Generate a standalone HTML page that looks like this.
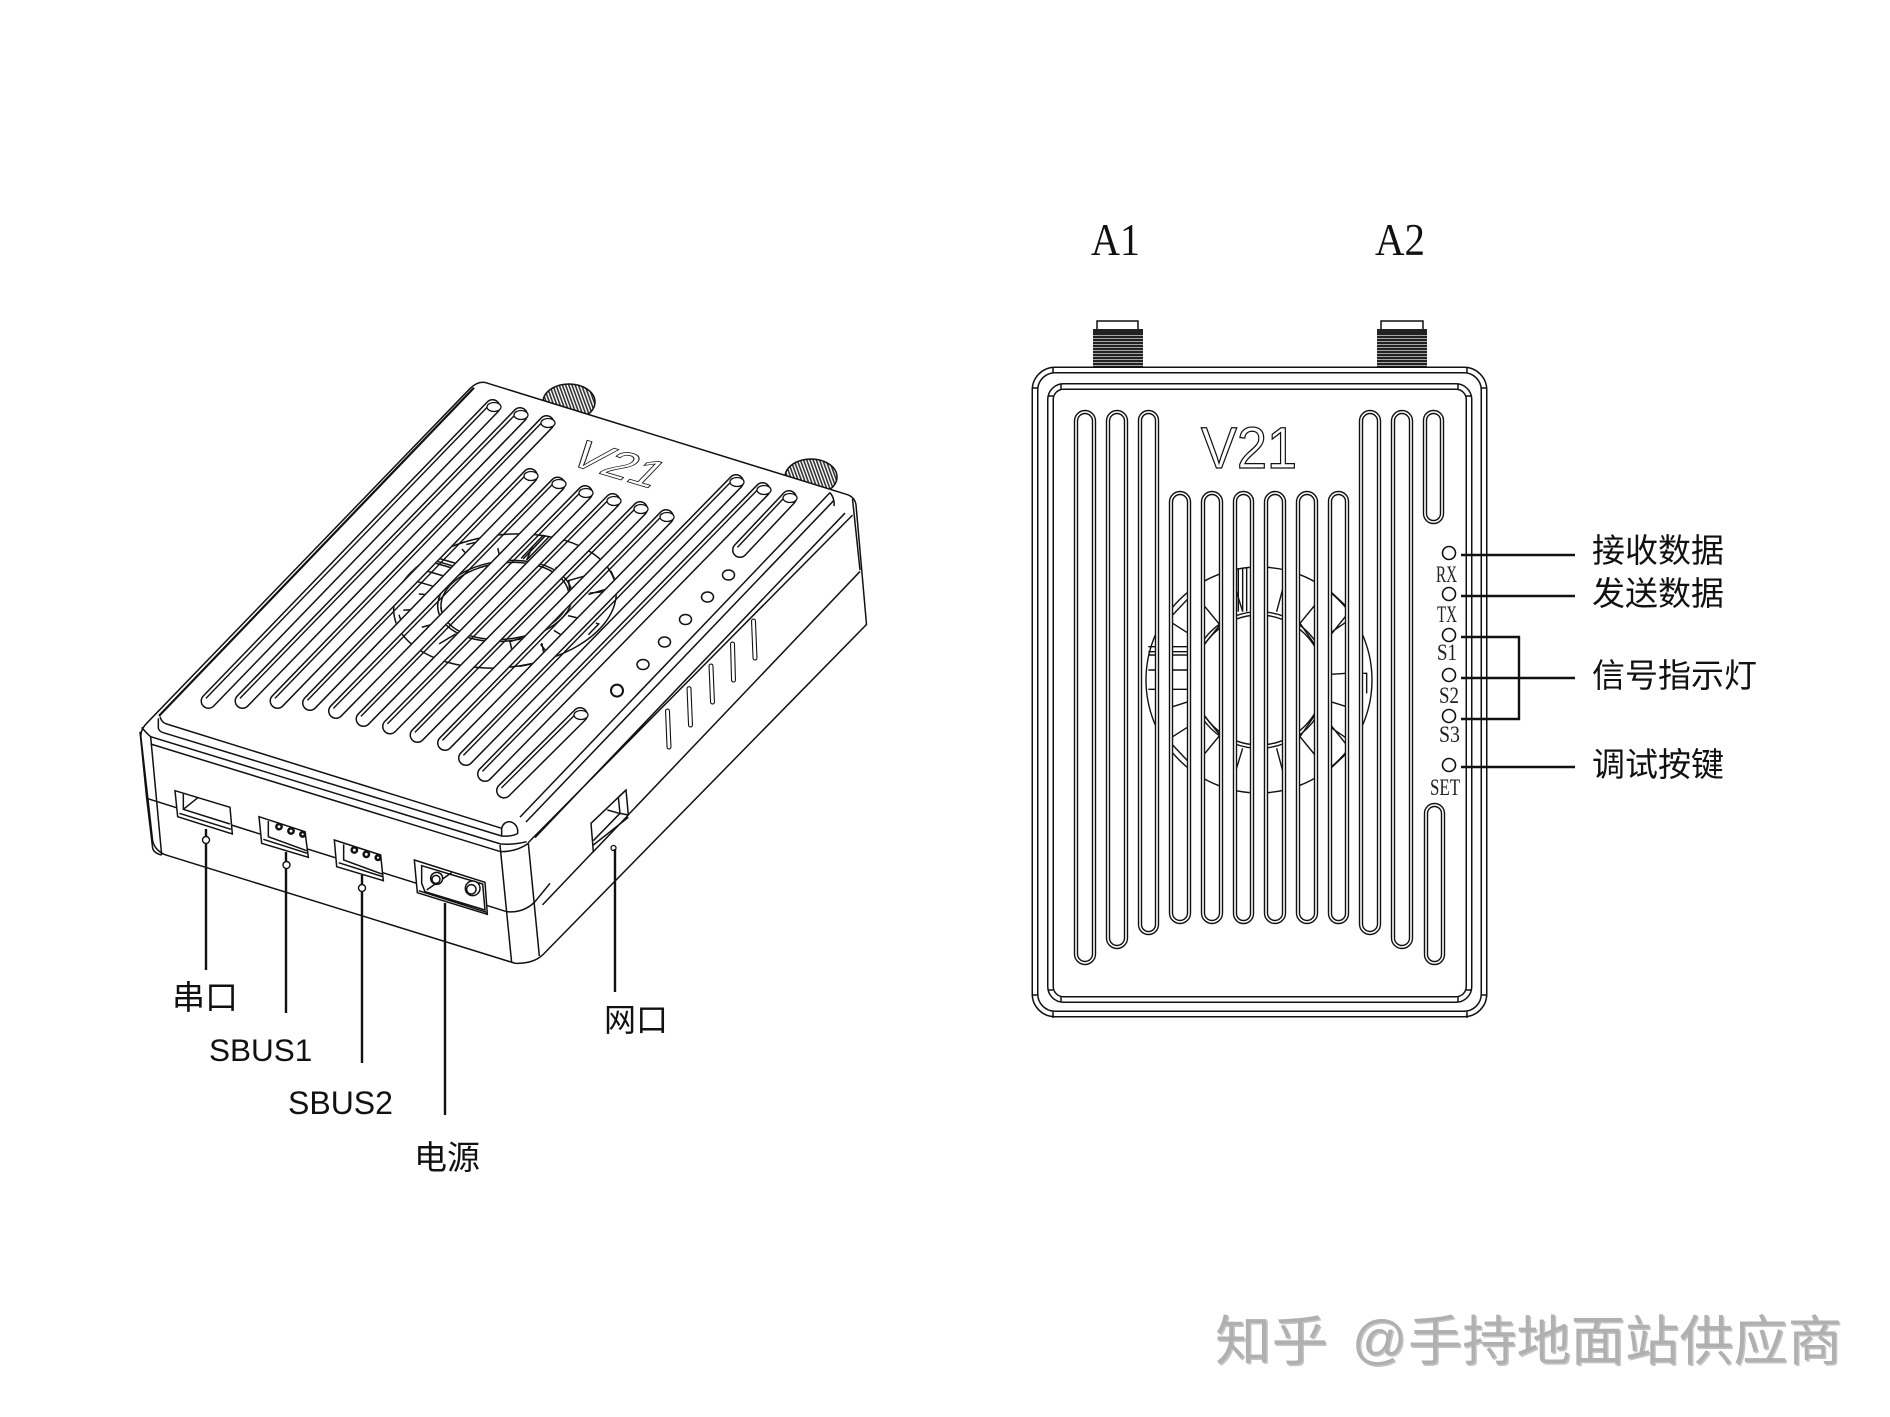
<!DOCTYPE html>
<html lang="zh">
<head>
<meta charset="utf-8">
<title>V21</title>
<style>
html,body{margin:0;padding:0;background:#fff}
svg{display:block}
path,line,circle,ellipse,polyline,polygon,rect{vector-effect:non-scaling-stroke}
.k{fill:none;stroke:#111;stroke-width:1.5}
.w{fill:#fff;stroke:#111;stroke-width:1.5}
.ld{fill:none;stroke:#111;stroke-width:2.4}
.cn{font-family:"Liberation Sans","Noto Sans CJK SC",sans-serif;fill:#111}
.sr{font-family:"Liberation Serif",serif;fill:#222}
.wm{font-family:"Liberation Sans","Noto Sans CJK SC",sans-serif;font-weight:400}
</style>
</head>
<body>
<svg width="1890" height="1417" viewBox="0 0 1890 1417" xmlns="http://www.w3.org/2000/svg">
<defs>
<pattern id="thread" width="4" height="3" patternUnits="userSpaceOnUse">
<rect width="4" height="3" fill="#fff"/><rect width="4" height="2.4" fill="#222"/>
</pattern>
<pattern id="threadL" width="3" height="4" patternUnits="userSpaceOnUse" patternTransform="rotate(-20)">
<rect width="3" height="4" fill="#fff"/><rect width="1.6" height="4" fill="#333"/>
</pattern>
<g id="rslots">
<rect x="1076" y="412" width="18" height="551" rx="9"/>
<rect x="1108" y="412" width="18" height="535" rx="9"/>
<rect x="1140" y="412" width="17" height="521" rx="8.5"/>
<rect x="1171" y="493" width="18" height="429" rx="9"/>
<rect x="1203" y="493" width="18" height="429" rx="9"/>
<rect x="1235" y="493" width="17" height="429" rx="8.5"/>
<rect x="1266" y="493" width="18" height="429" rx="9"/>
<rect x="1298" y="493" width="18" height="429" rx="9"/>
<rect x="1330" y="493" width="17" height="429" rx="8.5"/>
<rect x="1361" y="412" width="18" height="521" rx="9"/>
<rect x="1393" y="412" width="18" height="535" rx="9"/>
<rect x="1425" y="412" width="17" height="110" rx="8.5"/>
<rect x="1426" y="805" width="17" height="158" rx="8.5"/>
</g>
<g id="fanhalf">
<path d="M458 1215L505 1165M458 1240L505 1270M555 1190L600 1245L555 1300M648 1140L668 1205M790 1130L770 1205M885 1185L840 1240L885 1305M932 1145L980 1190M980 1215L932 1275M980 1235L932 1268"/>
</g>
<g id="fan">
<g transform="translate(1020,210) scale(.33333)">
<circle cx="717" cy="1410" r="339"/>
<circle cx="717" cy="1410" r="205"/>
<circle cx="717" cy="1410" r="195"/>
<use href="#fanhalf"/>
<use href="#fanhalf" transform="translate(0,2820) scale(1,-1)"/>
<path d="M385 1310H505M385 1325H505M385 1335H505M385 1380H505M385 1438H505M932 1393L980 1390M1030 1390H1040V1450M932 1475L980 1490M458 1490L505 1475M648 1075V1205M655 1075V1205M668 1075V1205M680 1075V1205"/>
</g>
</g>
<mask id="rmask" maskUnits="userSpaceOnUse" x="0" y="0" width="1890" height="1417">
<use href="#rslots" fill="#fff" stroke="none"/>
</mask>
<g id="lslots">
<path d="M492.5 407L208.5 701"/>
<path d="M520 415L242.5 701"/>
<path d="M546.5 423L277.5 701"/>
<path d="M530 476L310 703"/>
<path d="M557.5 484.5L336 711"/>
<path d="M585 493L363.5 719"/>
<path d="M612.5 501L390 726.5"/>
<path d="M640 509L417.5 735"/>
<path d="M666 517L445 743"/>
<path d="M736 482L466 758"/>
<path d="M762.5 490L485 774"/>
<path d="M789 498L740 550"/>
<path d="M580 715L504 790.6"/>
</g>
<mask id="lmask" maskUnits="userSpaceOnUse" x="0" y="0" width="1890" height="1417">
<use href="#lslots" fill="none" stroke="#fff" stroke-width="13" stroke-linecap="round"/>
</mask>
</defs>

<rect width="1890" height="1417" fill="#fff"/>

<!-- LEFT DEVICE -->
<ellipse cx="569" cy="402" rx="26" ry="18" fill="url(#threadL)" stroke="#111" stroke-width="1.5"/>
<ellipse cx="811" cy="477" rx="26" ry="18" fill="url(#threadL)" stroke="#111" stroke-width="1.5"/>

<g transform="translate(120,360) scale(.5,.408163)">
<path class="w" d="M730 55L1455 330Q1470 337 1472 355L1493 648L845 1458Q825 1480 790 1478L90 1212Q68 1200 65 1175L42 925Q40 905 55 888L700 70Q715 52 730 55Z"/>
<path class="k" style="stroke-width:2.2" d="M708 68L78 872"/>
<path class="k" d="M800 1120L1420 325M812 1132L1427 345M816 1183L1465 380M830 1170L1450 375"/>
<path class="k" d="M1420 325Q1430 340 1428 358M1465 340L1480 515"/>
<path class="k" d="M845 1335L1480 518"/>
</g>

<g transform="translate(130,720) scale(.33333)">
<path class="k" d="M90 -10Q95 8 110 12L1115 325M85 -5L85 25Q88 35 100 38L1115 348"/>
<path class="k" d="M1115 325Q1120 305 1140 305Q1160 310 1163 330V340Q1150 350 1115 348Z"/>
<path class="k" d="M35 22Q50 40 62 50L1112 372Q1150 375 1190 365M62 72L1112 395Q1160 395 1195 370"/>
<path class="k" d="M30 35L50 235L68 385Q72 400 95 405M62 50L95 405M1110 375L1145 728M1195 370L1228 708"/>
<path class="k" d="M50 235L1130 575Q1180 580 1215 545L1260 490"/>
<!-- ports -->
<path class="w" d="M135 212L300 262L307 342L143 290Z"/>
<path class="k" d="M160 222V268L300 312M160 268L205 232M148 280L303 328"/>
<path class="w" d="M387 290L525 335L535 412L395 370Z"/>
<path class="k" d="M415 303V350L530 392M400 358L532 400"/>
<circle class="k" cx="447" cy="320" r="8" style="stroke-width:2.5"/><circle class="k" cx="483" cy="333" r="8" style="stroke-width:2.5"/><circle class="k" cx="518" cy="343" r="7" style="stroke-width:2.5"/>
<path class="w" d="M613 360L752 405L760 482L620 440Z"/>
<path class="k" d="M641 373V420L756 462M626 428L758 470"/>
<circle class="k" cx="673" cy="390" r="8" style="stroke-width:2.5"/><circle class="k" cx="709" cy="403" r="8" style="stroke-width:2.5"/><circle class="k" cx="744" cy="413" r="7" style="stroke-width:2.5"/>
<path class="w" d="M853 420L1065 487L1072 583L862 518Z"/>
<path class="k" d="M875 437L1058 492L1065 570L885 515L875 490ZM866 512L1070 577M890 510L965 458"/>
<circle class="w" cx="920" cy="475" r="18"/><circle class="k" cx="918" cy="478" r="12"/>
<circle class="w" cx="1028" cy="505" r="22"/><circle class="k" cx="1024" cy="508" r="14"/>
</g>

<!-- left slots -->
<use href="#lslots" fill="none" stroke="#111" stroke-width="16" stroke-linecap="round"/>
<use href="#lslots" fill="none" stroke="#fff" stroke-width="13" stroke-linecap="round"/>
<g mask="url(#lmask)">
<g class="k" fill="none" stroke="#111" stroke-width="1.2">
<use href="#fan" transform="matrix(.838 .247 -.518 .54 -197.8 -77.2)"/>
</g>
<use href="#lslots" transform="translate(-2.6,-2.6)" fill="none" stroke="#111" stroke-width="1.4"/>
</g>
<g fill="#fff" stroke="#111" stroke-width="1.3">
<ellipse cx="494" cy="407" rx="7" ry="4.500"/><ellipse cx="521" cy="415" rx="7" ry="4.500"/><ellipse cx="548" cy="423" rx="7" ry="4.500"/>
<ellipse cx="531" cy="476" rx="7" ry="4.500"/><ellipse cx="559" cy="484" rx="7" ry="4.500"/><ellipse cx="586" cy="493" rx="7" ry="4.500"/>
<ellipse cx="614" cy="501" rx="7" ry="4.500"/><ellipse cx="641" cy="509" rx="7" ry="4.500"/><ellipse cx="667" cy="517" rx="7" ry="4.500"/>
<ellipse cx="737" cy="482" rx="7" ry="4.500"/><ellipse cx="764" cy="490" rx="7" ry="4.500"/><ellipse cx="790" cy="498" rx="7" ry="4.500"/>
<ellipse cx="581" cy="715" rx="7" ry="4.500"/>
</g>

<!-- left V21 -->
<g transform="translate(3,-9) matrix(.838 .247 -.518 .54 -197.8 -77.2)">
<text x="1197" y="470" font-family="Liberation Sans, sans-serif" font-size="62" textLength="102" lengthAdjust="spacingAndGlyphs" fill="#fff" stroke="#111" stroke-width="1.200">V21</text>
</g>

<!-- LEDs and vents on left device -->
<g fill="#fff" stroke="#111" stroke-width="1.5">
<ellipse cx="728.500" cy="575" rx="6" ry="5"/><ellipse cx="707.500" cy="597" rx="6" ry="5"/>
<ellipse cx="685.500" cy="619.500" rx="6" ry="5"/><ellipse cx="664.500" cy="642" rx="6" ry="5"/>
<ellipse cx="643" cy="664.500" rx="6" ry="5"/><ellipse cx="617" cy="690.600" rx="6" ry="6" stroke-width="2"/>
</g>
<g fill="none" stroke-linecap="round">
<path stroke="#111" stroke-width="5" d="M753.500 621L755 658M732.500 644L733.500 680M711 666L712.500 702M689 688.600L690.500 725M667.500 711L669 747"/>
<path stroke="#fff" stroke-width="2.800" d="M753.500 621L755 658M732.500 644L733.500 680M711 666L712.500 702M689 688.600L690.500 725M667.500 711L669 747"/>
</g>

<!-- side port -->
<g transform="translate(380,780) scale(.33333)">
<path class="w" d="M738 30L745 105L640 215L633 130L715 52Z"/>
<path class="k" d="M715 52L720 100L640 182M682 90L718 100M738 30L715 52M720 100L745 105M640 195L745 112"/>
</g>

<!-- left leaders -->
<g class="ld">
<path class="ld" d="M206 829V836M206 844V970"/>
<circle cx="206" cy="840" r="3.500" fill="none" stroke="#111" stroke-width="1.400"/>
<path class="ld" d="M286 852V861M286 869V1013"/>
<circle cx="286.500" cy="865" r="3.500" fill="none" stroke="#111" stroke-width="1.400"/>
<path class="ld" d="M362 875V884M362 892V1063"/>
<circle cx="362" cy="888" r="3.500" fill="none" stroke="#111" stroke-width="1.400"/>
<path class="ld" d="M445 903V1115"/>
<path class="ld" d="M615 849V992"/>
<circle cx="613.500" cy="848" r="2.500" fill="none" stroke="#111" stroke-width="1.300"/>
</g>

<text class="cn" x="172" y="1009" font-size="33">串口</text>
<text class="cn" x="209" y="1061" font-size="31.500">SBUS1</text>
<text class="cn" x="288" y="1114" font-size="32">SBUS2</text>
<text class="cn" x="414" y="1169" font-size="33">电源</text>
<text class="cn" x="604" y="1031" font-size="32">网口</text>

<!-- RIGHT DEVICE -->
<!-- antennas -->
<g stroke="#111" stroke-width="1.500">
<rect x="1097" y="321" width="41" height="10" fill="#fff"/>
<rect x="1381" y="321" width="42" height="10" fill="#fff"/>
<rect x="1093" y="329" width="50" height="38" fill="url(#thread)" stroke="none"/>
<rect x="1377" y="329" width="50" height="38" fill="url(#thread)" stroke="none"/>
<rect x="1093" y="329" width="50" height="6" fill="#222" stroke="none"/>
<rect x="1377" y="329" width="50" height="6" fill="#222" stroke="none"/>
</g>
<text class="sr" x="1091" y="255" font-size="45" textLength="49" lengthAdjust="spacingAndGlyphs" style="fill:#111">A1</text>
<text class="sr" x="1375" y="255" font-size="45" textLength="50" lengthAdjust="spacingAndGlyphs" style="fill:#111">A2</text>

<!-- frames -->
<rect x="1035" y="370" width="449" height="644" rx="20" fill="#fff" stroke="#111" stroke-width="7"/>
<rect x="1035" y="370" width="449" height="644" rx="20" fill="none" stroke="#fff" stroke-width="4"/>
<rect x="1050.500" y="386.500" width="418.500" height="613" rx="13" fill="none" stroke="#111" stroke-width="7"/>
<rect x="1050.500" y="386.500" width="418.500" height="613" rx="13" fill="none" stroke="#fff" stroke-width="4"/>
<path class="k" d="M1053 367V373M1467 367V373M1032 388H1038M1481 388H1487M1053 1012V1018M1467 1012V1018M1032 995H1038M1481 995H1487M1061 384V389M1458 384V389M1048 396H1053M1466 396H1472M1061 997V1002M1458 997V1002M1048 990H1053M1466 990H1472"/>

<!-- slots -->
<use href="#rslots" fill="#fff" stroke="#111" stroke-width="4.400"/>
<g mask="url(#rmask)" fill="none" stroke="#111" stroke-width="1.400">
<use href="#fan"/>
</g>
<use href="#rslots" fill="none" stroke="#fff" stroke-width="1.600"/>

<text x="1201" y="468" font-family="Liberation Sans, sans-serif" font-size="58" textLength="96" lengthAdjust="spacingAndGlyphs" fill="#fff" stroke="#111" stroke-width="1.300">V21</text>

<!-- LEDs -->
<g fill="#fff" stroke="#111" stroke-width="1.600">
<circle cx="1449" cy="553" r="6.500"/><circle cx="1449" cy="594" r="6.500"/><circle cx="1449" cy="635" r="6.500"/>
<circle cx="1449" cy="675" r="6.500"/><circle cx="1449" cy="716" r="6.500"/><circle cx="1449" cy="765" r="6.500"/>
</g>
<g font-size="23">
<text class="sr" x="1436" y="582" textLength="21" lengthAdjust="spacingAndGlyphs">RX</text>
<text class="sr" x="1437" y="622" textLength="20" lengthAdjust="spacingAndGlyphs">TX</text>
<text class="sr" x="1437" y="660" textLength="20" lengthAdjust="spacingAndGlyphs">S1</text>
<text class="sr" x="1439" y="703" textLength="20" lengthAdjust="spacingAndGlyphs">S2</text>
<text class="sr" x="1439" y="742" textLength="21" lengthAdjust="spacingAndGlyphs">S3</text>
<text class="sr" x="1430" y="795" textLength="30" lengthAdjust="spacingAndGlyphs">SET</text>
</g>

<!-- right leaders -->
<path class="ld" d="M1461 555H1575M1461 596H1575M1461 637H1519V719H1461M1461 678H1575M1461 767H1575"/>

<text class="cn" x="1592" y="562" font-size="33">接收数据</text>
<text class="cn" x="1592" y="605" font-size="33">发送数据</text>
<text class="cn" x="1592" y="687" font-size="33">信号指示灯</text>
<text class="cn" x="1592" y="776" font-size="33">调试按键</text>

<!-- watermark -->
<g class="wm">
<g fill="#c4c4c4" transform="translate(1.500,1.500)">
<text x="1215" y="1360" font-size="54" textLength="113" lengthAdjust="spacingAndGlyphs">知乎</text>
<text x="1352" y="1358" font-size="54">@</text>
<text x="1408" y="1360" font-size="54" textLength="434" lengthAdjust="spacingAndGlyphs">手持地面站供应商</text>
</g>
<g fill="#b0b0b0">
<text x="1215" y="1360" font-size="54" textLength="113" lengthAdjust="spacingAndGlyphs">知乎</text>
<text x="1352" y="1358" font-size="54">@</text>
<text x="1408" y="1360" font-size="54" textLength="434" lengthAdjust="spacingAndGlyphs">手持地面站供应商</text>
</g>
</g>
</svg>
</body>
</html>
